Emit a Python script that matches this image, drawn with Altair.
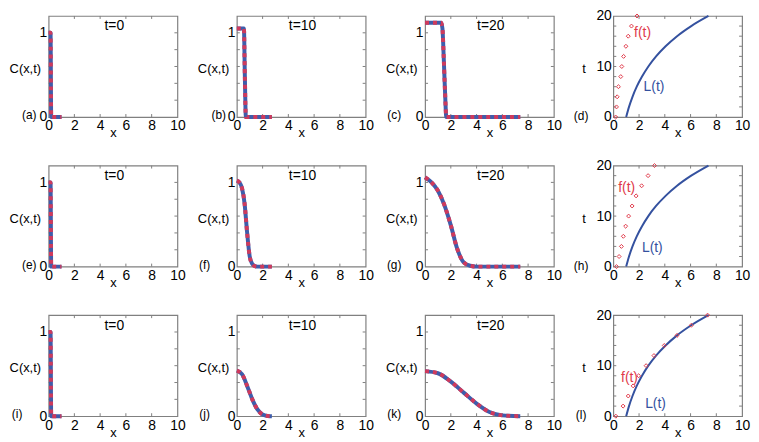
import altair as alt
import pandas as pd

# ---------------- data ----------------
# t = 0 (same initial profile in every row)
x_t0 = [0.0, 0.15, 0.2, 1.0]
c_t0 = [1.0, 1.0, 0.0, 0.0]

# row 1
x_b = [0.0, 0.55, 0.62, 0.70, 2.72]
c_b = [1.05, 1.05, 0.50, 0.0, 0.0]
x_c = [0.0, 1.25, 1.35, 1.45, 1.55, 1.65, 7.39]
c_c = [1.12, 1.12, 1.05, 0.70, 0.30, 0.0, 0.0]

# row 2
x_f = [0.0, 0.2, 0.4, 0.6, 0.8, 1.0, 1.2, 1.4, 1.6, 2.72]
c_f = [1.02, 1.0, 0.93, 0.75, 0.40, 0.12, 0.03, 0.005, 0.0, 0.0]
x_g = [0.0, 0.5, 1.0, 1.5, 2.0, 2.5, 3.0, 3.5, 4.0, 7.39]
c_g = [1.06, 1.0, 0.90, 0.73, 0.49, 0.21, 0.05, 0.01, 0.0, 0.0]

# row 3
x_j = [0.0, 0.4, 0.8, 1.2, 1.6, 2.0, 2.4, 2.72]
c_j = [0.54, 0.50, 0.36, 0.20, 0.08, 0.02, 0.003, 0.0]
x_k = [0.0, 1.0, 2.0, 3.0, 4.0, 5.0, 6.0, 7.39]
c_k = [0.535, 0.51, 0.41, 0.28, 0.15, 0.05, 0.01, 0.0]

# right column: domain length L(t) and front f(t)
t_vals = [0, 2, 4, 6, 8, 10, 12, 14, 16, 18, 20]
L_vals = [1.0, 1.22, 1.49, 1.82, 2.23, 2.72, 3.32, 4.06, 4.95, 6.05, 7.39]
f_d = [0.18, 0.25, 0.30, 0.40, 0.58, 0.66, 0.80, 0.98, 1.16, 1.41, 1.84]
f_h = [0.25, 0.45, 0.63, 0.78, 0.96, 1.19, 1.46, 1.77, 2.20, 2.70, 3.20]
f_l = [0.20, 0.76, 1.16, 1.54, 1.97, 2.55, 3.16, 3.96, 4.95, 6.06, 7.32]

x_ticks = [0, 2, 4, 6, 8, 10]
x_minor = [2, 4, 6, 8]
c_labels = [0, 1]
c_minor = [0.2, 0.4, 0.6, 0.8, 1.0]
t_labels = [0, 10, 20]
t_minor = [2, 4, 6, 8, 10, 12, 14, 16, 18]

# ---------------- styling ----------------
W, H = 130, 102
BLUE = "#3f5dab"
RED = "#cf3a5c"
LBLUE = "#34519f"
FRED = "#e03a4a"
FRAME = "#808080"
FONT = "Liberation Sans"

xscale = alt.Scale(domain=[0, 10], nice=False, zero=False)
cscale = alt.Scale(domain=[0, 1.2], nice=False, zero=False)
tscale = alt.Scale(domain=[0, 20], nice=False, zero=False)

xaxis = alt.Axis(values=x_ticks, format="d", title="x", titleY=20,
                 titleBaseline="alphabetic", labelPadding=2)


def yaxis(title, values, tx):
    return alt.Axis(values=values, format="d", title=title, titleAngle=0,
                    titleAlign="center", titleBaseline="middle", titleX=tx,
                    titleY=53, labelPadding=2)


def frame_ticks(yfield_scale, yaxis_def, minor):
    X = alt.X("x:Q", scale=xscale, axis=xaxis)
    Y = alt.Y("y:Q", scale=yfield_scale, axis=yaxis_def)
    dx = pd.DataFrame({"x": x_minor})
    dy = pd.DataFrame({"y": minor})
    rule = dict(color=FRAME, strokeWidth=1)
    return [
        alt.Chart(dx).mark_rule(**rule).encode(x=X, y=alt.value(H), y2=alt.value(H - 3)),
        alt.Chart(dx).mark_rule(**rule).encode(x=X, y=alt.value(0), y2=alt.value(3)),
        alt.Chart(dy).mark_rule(**rule).encode(y=Y, x=alt.value(0), x2=alt.value(3)),
        alt.Chart(dy).mark_rule(**rule).encode(y=Y, x=alt.value(W), x2=alt.value(W - 3)),
    ]


def text_layer(xv, yv, label, X, Y, color="black", size=13, dy=0):
    df = pd.DataFrame({"x": [xv], "y": [yv], "label": [label]})
    return alt.Chart(df).mark_text(font=FONT, fontSize=size, color=color,
                                   align="center", baseline="middle", dy=dy).encode(
        x=X, y=Y, text="label:N")


def c_panel(xs, cs, tlabel, letter, lx):
    X = alt.X("x:Q", scale=xscale, axis=xaxis)
    ya = yaxis("C(x,t)", c_labels, -24)
    Y = alt.Y("y:Q", scale=cscale, axis=ya)
    df = pd.DataFrame({"x": xs, "y": cs})
    blue = alt.Chart(df).mark_line(color=BLUE, strokeWidth=4,
                                   interpolate="monotone").encode(x=X, y=Y)
    red = alt.Chart(df).mark_line(color=RED, strokeWidth=4, strokeDash=[4, 4],
                                  interpolate="monotone").encode(x=X, y=Y)
    layers = frame_ticks(cscale, ya, c_minor) + [
        blue, red,
        text_layer(5.1, 1.075, tlabel, X, Y, size=14),
        text_layer(lx, 0.0, letter, X, Y, size=12, dy=-2),
    ]
    return alt.layer(*layers).properties(width=W, height=H)


def l_panel(fx, letter, lx, fpos, lpos):
    X = alt.X("x:Q", scale=xscale, axis=xaxis)
    ya = yaxis("t", t_labels, -30)
    Y = alt.Y("y:Q", scale=tscale, axis=ya)
    dl = pd.DataFrame({"x": L_vals, "y": t_vals})
    df = pd.DataFrame({"x": fx, "y": t_vals})
    line = alt.Chart(dl).mark_line(color=LBLUE, strokeWidth=2,
                                   interpolate="monotone").encode(x=X, y=Y)
    pts = alt.Chart(df).mark_point(shape="diamond", filled=False, size=16,
                                   color=FRED, strokeWidth=1, opacity=1).encode(x=X, y=Y)
    layers = frame_ticks(tscale, ya, t_minor) + [
        line, pts,
        text_layer(fpos[0], fpos[1], "f(t)", X, Y, color=FRED, size=14),
        text_layer(lpos[0], lpos[1], "L(t)", X, Y, color=LBLUE, size=14),
        text_layer(lx, 0.0, letter, X, Y, size=12, dy=-1),
    ]
    return alt.layer(*layers).properties(width=W, height=H)


panels = [
    c_panel(x_t0, c_t0, "t=0", "(a)", -1.5),
    c_panel(x_b, c_b, "t=10", "(b)", -1.4),
    c_panel(x_c, c_c, "t=20", "(c)", -2.4),
    l_panel(f_d, "(d)", -2.5, (2.27, 16.6), (3.16, 5.9)),
    c_panel(x_t0, c_t0, "t=0", "(e)", -1.5),
    c_panel(x_f, c_f, "t=10", "(f)", -2.5),
    c_panel(x_g, c_g, "t=20", "(g)", -2.4),
    l_panel(f_h, "(h)", -2.5, (1.04, 15.5), (3.03, 3.6)),
    c_panel(x_t0, c_t0, "t=0", "(i)", -2.45),
    c_panel(x_j, c_j, "t=10", "(j)", -2.5),
    c_panel(x_k, c_k, "t=20", "(k)", -2.4),
    l_panel(f_l, "(l)", -2.5, (1.26, 7.47), (3.28, 2.47)),
]

chart = alt.concat(
    *panels, columns=4, bounds="flush",
    spacing=alt.RowColnumber(row=49, column=60),
).properties(
    padding={"left": 0, "top": -2, "right": 0, "bottom": 0}
).configure_view(
    stroke=FRAME, strokeWidth=1.2
).configure_axis(
    grid=False, domain=False, ticks=False, tickSize=0,
    labelFont=FONT, labelFontSize=14, labelColor="black",
    labelFlush=False, labelOverlap=False,
    titleFont=FONT, titleFontSize=13, titleFontWeight="normal", titleColor="black",
)

chart.save("out.html", embed_options={"renderer": "svg", "actions": False})
